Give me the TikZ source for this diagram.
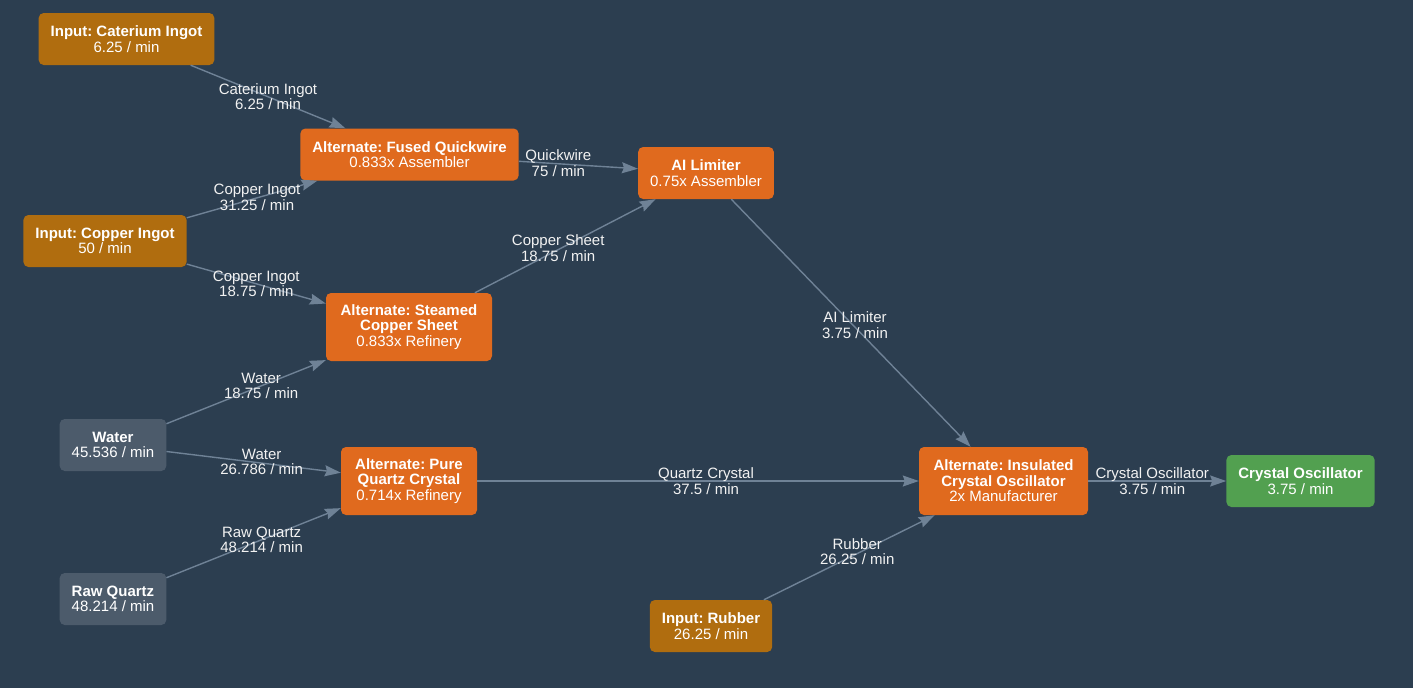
\documentclass[tikz,border=0pt]{standalone}
\usepackage{fontspec}
\setmainfont{Liberation Sans}
\frenchspacing
\usetikzlibrary{arrows.meta}
\definecolor{boardbg}{HTML}{2C3E50}
\definecolor{inputfill}{HTML}{B06D0F}
\definecolor{recipefill}{HTML}{E06A1E}
\definecolor{rawfill}{HTML}{4C5B6B}
\definecolor{outfill}{HTML}{52A050}
\definecolor{flowline}{HTML}{6F8296}
\definecolor{ratetext}{HTML}{F2F2F2}
\newcommand{\boardx}{1413}
\newcommand{\boardy}{688}
\newcommand{\boxround}{5pt}
\newcommand{\boxfont}{\fontsize{15}{15.5}\selectfont}
\tikzset{
  box/.style={rounded corners=\boxround, text=white, align=center,
    inner xsep=12pt, inner ysep=3pt, minimum height=52pt, font=\boxfont},
  inputbox/.style={box, fill=inputfill},
  recipebox/.style={box, fill=recipefill},
  rawbox/.style={box, fill=rawfill},
  outbox/.style={box, fill=outfill},
  tallbox/.style={minimum height=68pt, minimum width=#1},
  flow/.style={draw=flowline, line width=1.4pt,
    -{Stealth[length=16pt, width=11pt, inset=2pt]}},
  rate/.style={midway, text=ratetext, align=center, inner sep=0pt, font=\boxfont}
}

\begin{document}
\begin{tikzpicture}[x=1pt, y=-1pt]
    % board
    \fill[boardbg] (0,0) rectangle (\boardx,\boardy);
    \useasboundingbox (0,0) rectangle (\boardx,\boardy);

    % inputs
    \node[inputbox] (caterium) at (126.5,39) {\textbf{Input: Caterium Ingot}\\6.25 / min};
    \node[inputbox] (copper) at (105,241) {\textbf{Input: Copper Ingot}\\50 / min};
    \node[rawbox] (water) at (113,445) {\textbf{Water}\\45.536 / min};
    \node[rawbox] (rawquartz) at (113,599) {\textbf{Raw Quartz}\\48.214 / min};
    \node[inputbox] (rubber) at (711,626) {\textbf{Input: Rubber}\\26.25 / min};

    % recipes
    \node[recipebox] (quickwire) at (409.5,154.5) {\textbf{Alternate: Fused Quickwire}\\0.833x Assembler};
    \node[recipebox, tallbox=166pt] (sheet) at (409,327) {\textbf{Alternate: Steamed}\\\textbf{Copper Sheet}\\0.833x Refinery};
    \node[recipebox, tallbox=136pt] (quartz) at (409,481) {\textbf{Alternate: Pure}\\\textbf{Quartz Crystal}\\0.714x Refinery};
    \node[recipebox] (limiter) at (706,173) {\textbf{AI Limiter}\\0.75x Assembler};
    \node[recipebox, tallbox=169pt] (oscillator) at (1003.5,481) {\textbf{Alternate: Insulated}\\\textbf{Crystal Oscillator}\\2x Manufacturer};

    % output
    \node[outbox] (product) at (1300.5,481) {\textbf{Crystal Oscillator}\\3.75 / min};

    % flows
    \draw[flow] (caterium) -- node[rate] {Caterium Ingot\\6.25 / min} (quickwire);
    \draw[flow] (copper) -- node[rate, xshift=5pt, yshift=2pt] {Copper Ingot\\31.25 / min} (quickwire);
    \draw[flow] (copper) -- node[rate] {Copper Ingot\\18.75 / min} (sheet);
    \draw[flow] (water) -- node[rate, xshift=15pt, yshift=6pt] {Water\\18.75 / min} (sheet);
    \draw[flow] (water) -- node[rate, xshift=8pt] {Water\\26.786 / min} (quartz);
    \draw[flow] (rawquartz) -- node[rate, xshift=8pt, yshift=3pt] {Raw Quartz\\48.214 / min} (quartz);
    \draw[flow] (quickwire) -- node[rate, xshift=-20pt, yshift=2pt] {Quickwire\\75 / min} (limiter);
    \draw[flow] (sheet) -- node[rate, xshift=-7pt, yshift=-2pt] {Copper Sheet\\18.75 / min} (limiter);
    \draw[flow] (limiter) -- node[rate, xshift=4pt, yshift=-2pt] {AI Limiter\\3.75 / min} (oscillator);
    \draw[flow] (quartz) -- node[rate, xshift=8pt] {Quartz Crystal\\37.5 / min} (oscillator);
    \draw[flow] (rubber) -- node[rate, xshift=8pt, yshift=6pt] {Rubber\\26.25 / min} (oscillator);
    \draw[flow] (oscillator) -- node[rate, xshift=-5pt] {Crystal Oscillator\\3.75 / min} (product);
\end{tikzpicture}
\end{document}
